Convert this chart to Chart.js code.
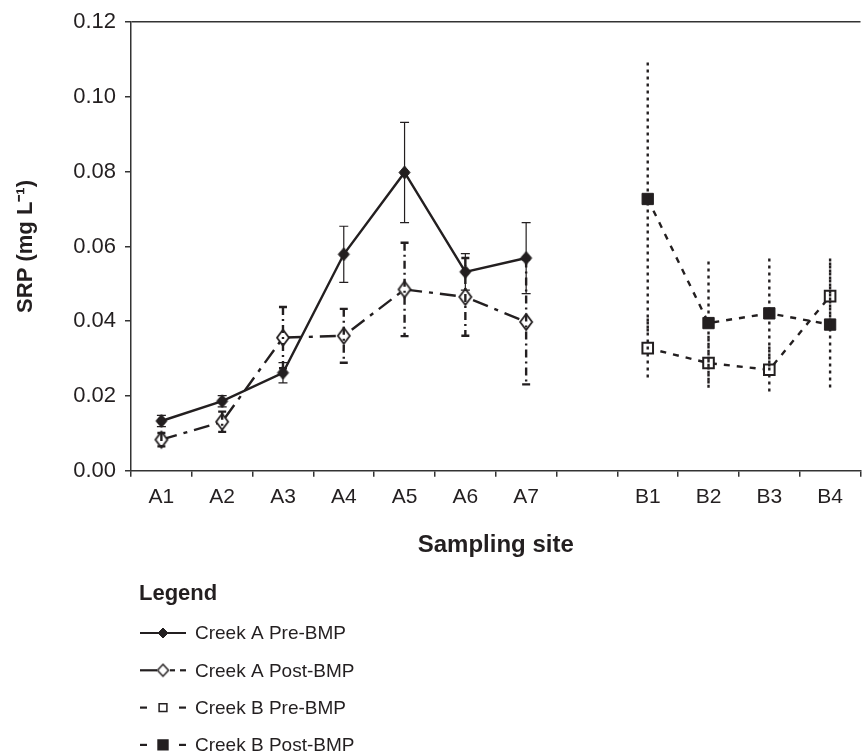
<!DOCTYPE html>
<html>
<head>
<meta charset="utf-8">
<script src="https://cdn.jsdelivr.net/npm/chart.js@4"></script>
<style>
  html, body { margin: 0; padding: 0; background: #fff; }
  #wrap { width: 866px; height: 756px; overflow: hidden; }
  canvas { display: block; }
</style>
</head>
<body>
<div id="wrap"><canvas id="myChart" width="870" height="756"></canvas></div>
<script>
const INK = '#231f20'
const FONT = '"Liberation Sans", Arial, sans-serif'

// sampling sites, blank slot separates the two creeks
const sites = ['A1', 'A2', 'A3', 'A4', 'A5', 'A6', 'A7', '', 'B1', 'B2', 'B3', 'B4']
const yTicks = [0, 0.02, 0.04, 0.06, 0.08, 0.10, 0.12]

// SRP means (mg/L) and error bar half-widths
const creekAPre = [0.0133, 0.0186, 0.0262, 0.0579, 0.0798, 0.0532, 0.0569, null, null, null, null, null]
const creekAPreErr = [0.0015, 0.0015, 0.0027, 0.0075, 0.0134, 0.0049, 0.0095, null, null, null, null, null]
const creekAPost = [0.0083, 0.0131, 0.0356, 0.0361, 0.0485, 0.0465, 0.0398, null, null, null, null, null]
const creekAPostErr = [0.0018, 0.0027, 0.0082, 0.0072, 0.0125, 0.0104, 0.0167, null, null, null, null, null]
const creekBPre = [null, null, null, null, null, null, null, null, 0.0328, 0.0288, 0.0270, 0.0467]
const creekBPreErr = [null, null, null, null, null, null, null, null, 0.0079, 0.0073, 0.0062, 0.0090]
const creekBPost = [null, null, null, null, null, null, null, null, 0.0727, 0.0395, 0.0421, 0.0391]
const creekBPostErr = [null, null, null, null, null, null, null, null, 0.0365, 0.0165, 0.0147, 0.0177]

const errors = [creekAPreErr, creekAPostErr, creekBPreErr, creekBPostErr]
// error bar look per series: dash, width, cap half-width
const errStyle = [
  { dash: [], width: 1.2, cap: 4.5 },
  { dash: [8, 4, 2, 4], width: 2.4, cap: 4 },
  { dash: [3, 4], width: 2.4, cap: 0 },
  { dash: [3, 4], width: 2.4, cap: 0 },
]

// tall diamond marker as a small canvas
function diamond(w, h, fill, lw) {
  const c = document.createElement('canvas')
  c.width = w + 4
  c.height = h + 4
  const g = c.getContext('2d')
  const cx = c.width / 2, cy = c.height / 2
  g.beginPath()
  g.moveTo(cx, cy - h / 2)
  g.lineTo(cx + w / 2, cy)
  g.lineTo(cx, cy + h / 2)
  g.lineTo(cx - w / 2, cy)
  g.closePath()
  g.fillStyle = fill
  g.fill()
  g.lineWidth = lw
  g.strokeStyle = INK
  g.stroke()
  return c
}
const markAPre = diamond(11, 13, INK, 1)
const markAPost = diamond(12, 16, '#fff', 1.8)

const errorBars = {
  id: 'errorBars',
  afterDatasetsDraw(chart) {
    const ctx = chart.ctx
    const y = chart.scales.y
    ctx.save()
    ctx.strokeStyle = INK
    chart.data.datasets.forEach((ds, i) => {
      const meta = chart.getDatasetMeta(i)
      const st = errStyle[i]
      ctx.lineWidth = st.width
      ctx.setLineDash(st.dash)
      ds.data.forEach((v, j) => {
        if (v == null || errors[i][j] == null) return
        const x = meta.data[j].x
        const top = y.getPixelForValue(v + errors[i][j])
        const bot = y.getPixelForValue(v - errors[i][j])
        ctx.beginPath()
        ctx.moveTo(x, top)
        ctx.lineTo(x, bot)
        if (st.cap) {
          ctx.moveTo(x - st.cap, top); ctx.lineTo(x + st.cap, top)
          ctx.moveTo(x - st.cap, bot); ctx.lineTo(x + st.cap, bot)
        }
        ctx.stroke()
      })
    })
    ctx.restore()
  }
}

// legend block under the x axis title
const legendBlock = {
  id: 'legendBlock',
  afterDraw(chart) {
    const ctx = chart.ctx
    const segs = [
      [[140, 186]],
      [[140, 157], [170, 175], [180, 186]],
      [[140, 147], [179, 186]],
      [[140, 147], [179, 186]],
    ]
    const marks = [
      { pointStyle: diamond(10, 10, INK, 1), radius: 5, fill: INK },
      { pointStyle: diamond(11, 12, '#fff', 1.5), radius: 6, fill: '#fff' },
      { pointStyle: 'rect', radius: 5.5, fill: '#fff' },
      { pointStyle: 'rect', radius: 7, fill: INK },
    ]
    ctx.save()
    ctx.fillStyle = INK
    ctx.textBaseline = 'middle'
    ctx.font = 'bold 22px ' + FONT
    ctx.fillText('Legend', 139, 594)
    ctx.font = '19px ' + FONT
    chart.data.datasets.forEach((ds, i) => {
      const yy = 633 + i * 37.3
      ctx.strokeStyle = INK
      ctx.lineWidth = 2.2
      ctx.setLineDash([])
      segs[i].forEach(s => {
        ctx.beginPath(); ctx.moveTo(s[0], yy); ctx.lineTo(s[1], yy); ctx.stroke()
      })
      ctx.fillStyle = marks[i].fill
      ctx.lineWidth = 1.5
      Chart.helpers.drawPoint(ctx, { pointStyle: marks[i].pointStyle, radius: marks[i].radius, rotation: 0, borderWidth: 1.5 }, 163, yy)
      ctx.fillStyle = INK
      ctx.fillText(ds.label, 195, yy + 1)
    })
    ctx.restore()
  }
}

const ctx = document.getElementById('myChart').getContext('2d')
const myChart = new Chart(ctx, {
  type: 'line',
  data: {
    labels: sites,
    datasets: [
      {
        label: 'Creek A Pre-BMP',
        data: creekAPre,
        borderColor: INK,
        borderWidth: 2.4,
        pointStyle: markAPre,
        pointRadius: 6,
      },
      {
        label: 'Creek A Post-BMP',
        data: creekAPost,
        borderColor: INK,
        borderWidth: 2.4,
        borderDash: [16, 7, 4, 7],
        pointStyle: markAPost,
        pointRadius: 7,
      },
      {
        label: 'Creek B Pre-BMP',
        data: creekBPre,
        borderColor: INK,
        borderWidth: 2.4,
        borderDash: [6, 7],
        pointStyle: 'rect',
        pointRadius: 7.5,
        pointBackgroundColor: '#fff',
        pointBorderColor: INK,
        pointBorderWidth: 2,
      },
      {
        label: 'Creek B Post-BMP',
        data: creekBPost,
        borderColor: INK,
        borderWidth: 2.4,
        borderDash: [6, 7],
        pointStyle: 'rect',
        pointRadius: 8,
        pointBackgroundColor: INK,
        pointBorderColor: INK,
        pointBorderWidth: 1,
      },
    ],
  },
  options: {
    responsive: false,
    animation: false,
    clip: false,
    layout: { padding: { top: 20, right: 0, bottom: 185.3, left: 0 } },
    plugins: {
      legend: { display: false },
      tooltip: { enabled: false },
    },
    scales: {
      x: {
        offset: true,
        afterFit: (scale) => { scale.height = 100 },
        grid: { drawOnChartArea: false, tickLength: 6, tickColor: '#333', offset: true, lineWidth: 1.5 },
        border: { color: '#333', width: 1.5 },
        ticks: { color: INK, font: { family: FONT, size: 21 }, padding: 8, maxRotation: 0, autoSkip: false },
        title: { display: true, text: 'Sampling site', color: INK, font: { family: FONT, size: 24, weight: 'bold' }, padding: { top: 0, bottom: 11 } },
      },
      y: {
        min: 0,
        max: 0.12,
        afterFit: (scale) => { scale.width = 131 },
        afterBuildTicks: (scale) => { scale.ticks = yTicks.map(v => ({ value: v })) },
        grid: {
          color: (c) => (c.tick && c.tick.value > 0.119 ? '#333' : 'rgba(0,0,0,0)'),
          tickColor: '#333',
          tickLength: 6,
          lineWidth: 1.5,
        },
        border: { color: '#333', width: 1.5 },
        ticks: {
          color: INK,
          font: { family: FONT, size: 22 },
          padding: 9,
          callback: (v) => Number(v).toFixed(2),
        },
        title: { display: true, text: 'SRP (mg L⁻¹)', color: INK, font: { family: FONT, size: 22, weight: 'bold' }, padding: { top: 13, bottom: 0 } },
      },
    },
  },
  plugins: [errorBars, legendBlock],
})
</script>
</body>
</html>
